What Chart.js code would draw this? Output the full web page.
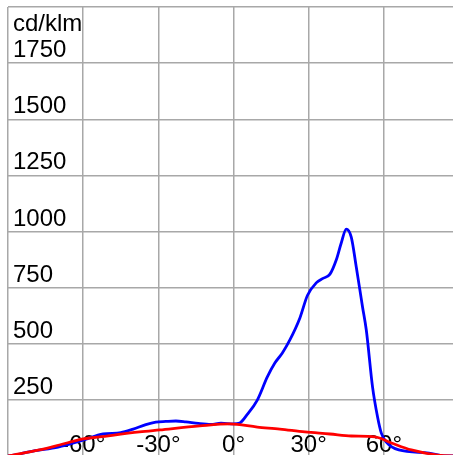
<!DOCTYPE html>
<html>
<head>
    <title>Light distribution</title>
    <style>
        html, body { margin: 0; padding: 0; overflow: hidden; background: #fff; }
        #wrap { position: absolute; left: 0; top: 0; }
    </style>
</head>
<body>
    <div id="wrap">
        <canvas id="myChart" width="466" height="463"></canvas>
    </div>

    <script src="https://cdn.jsdelivr.net/npm/chart.js"></script>
    <script>
        // Values (angle in degrees, intensity in cd/klm)
        const blueAngles = [-90, -85, -80, -70, -60, -52, -45, -40, -35, -31, -27, -23, -19, -14, -9, -5, 0, 2.5, 5.5, 9.5, 13.5, 16.5, 19.5, 22.5, 26.5, 29.5, 33, 35.5, 38.5, 41, 43, 45, 47, 49, 51.5, 53, 55.5, 57.5, 59, 61, 66, 78, 84, 90];
        const blueValues = [0, 10, 22, 40, 71, 98, 104, 120, 140, 151, 154, 156, 152, 145, 141, 146, 143, 147, 185, 249, 352, 414, 459, 517, 615, 715, 771, 790, 810, 873, 949, 1011, 975, 842, 664, 561, 307, 174, 102, 62, 27, 13, 0, 0];

        const redAngles = [-90, -85.5, -77.5, -69.5, -60, -53.5, -37.5, -29.5, -13.5, -1.5, 9.5, 18.5, 28.5, 38.5, 47, 56.5, 63, 71, 81.5, 90];
        const redValues = [0, 9, 27, 49, 76, 85, 107, 116, 134, 143, 129, 120, 107, 98, 89, 85, 58, 27, 4, 0];

        const yTickLabels = [250, 500, 750, 1000, 1250, 1500, 1750];
        const xTickLabels = [-60, -30, 0, 30, 60];
        const unitLabel = 'cd/klm';

        const toPoints = (xs, ys) => xs.map((x, i) => ({ x: x, y: ys[i] }));

        // Draws the tick labels inside the plot, behind the curves
        const insideLabels = {
            id: 'insideLabels',
            beforeDatasetsDraw(chart) {
                const ctx = chart.ctx;
                const xs = chart.scales.x;
                const ys = chart.scales.y;
                ctx.save();
                ctx.fillStyle = '#000';
                ctx.font = '24px "Liberation Sans", Arial, sans-serif';
                ctx.textBaseline = 'alphabetic';
                ctx.textAlign = 'left';
                yTickLabels.forEach(v => {
                    ctx.fillText(String(v), 13, ys.getPixelForValue(v) - 6);
                });
                ctx.fillText(unitLabel, 13, 31);
                ctx.textAlign = 'center';
                xTickLabels.forEach(a => {
                    ctx.fillText(a + '°', xs.getPixelForValue(a), 452);
                });
                ctx.restore();
            }
        };

        const ctx = document.getElementById('myChart').getContext('2d');
        const myChart = new Chart(ctx, {
            type: 'line',
            data: {
                datasets: [{
                    data: toPoints(redAngles, redValues),
                    borderColor: '#ff0000',
                    borderWidth: 2.8,
                    pointRadius: 0,
                    cubicInterpolationMode: 'monotone'
                }, {
                    data: toPoints(blueAngles, blueValues),
                    borderColor: '#0000ff',
                    borderWidth: 2.8,
                    pointRadius: 0,
                    cubicInterpolationMode: 'monotone'
                }]
            },
            options: {
                responsive: false,
                animation: false,
                devicePixelRatio: 1,
                layout: {
                    padding: { left: 8, top: 7, right: 7, bottom: 7 }
                },
                scales: {
                    x: {
                        type: 'linear',
                        min: -90,
                        max: 90,
                        ticks: { display: false, stepSize: 30 },
                        grid: { color: '#a8a8a8', lineWidth: 1.5, drawTicks: false },
                        border: { display: false }
                    },
                    y: {
                        min: 0,
                        max: 2000,
                        ticks: { display: false, stepSize: 250 },
                        grid: { color: '#a8a8a8', lineWidth: 1.5, drawTicks: false },
                        border: { display: false }
                    }
                },
                plugins: {
                    legend: { display: false },
                    tooltip: { enabled: false }
                }
            },
            plugins: [insideLabels]
        });
    </script>
</body>
</html>
